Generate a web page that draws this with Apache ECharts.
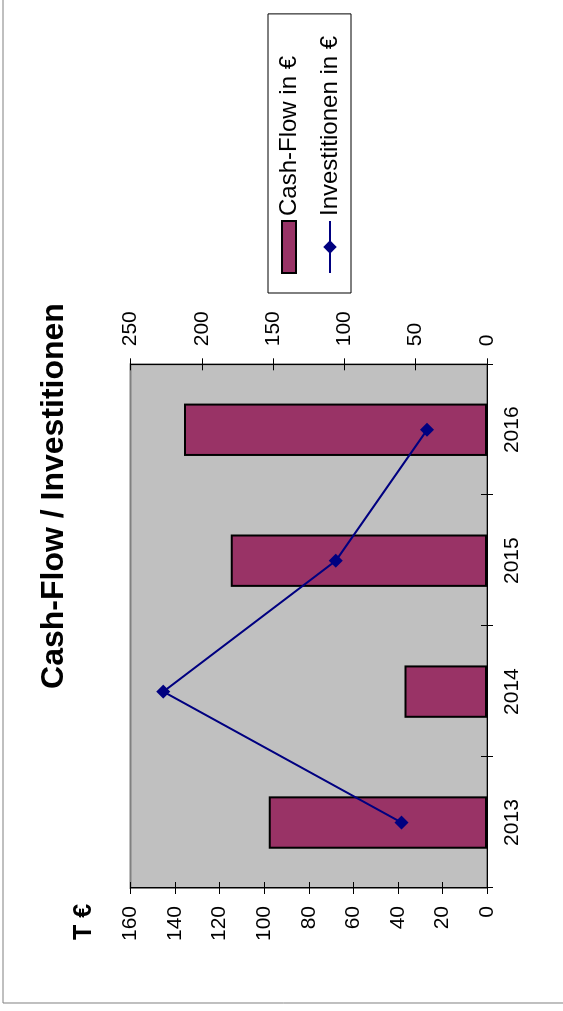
<!DOCTYPE html>
<html>
<head>
<meta charset="utf-8">
<script src="https://cdn.jsdelivr.net/npm/echarts@6/dist/echarts.min.js"></script>
<style>
  html, body { margin: 0; padding: 0; background: #fff; overflow: hidden; width: 563px; height: 1011px; }
  /* The chart is laid out landscape and turned a quarter turn counter-clockwise onto the portrait page */
  #chart {
    position: absolute; left: 0; top: 0;
    width: 1011px; height: 563px;
    transform-origin: 0 0;
    transform: translate(0px, 1011px) rotate(-90deg);
  }
</style>
</head>
<body>
<div id="chart"></div>
<script>
const years = ['2013', '2014', '2015', '2016'];
const cashFlow = [98, 37, 115, 136];          // T €, left axis
const investitionen = [60, 227, 106, 42];     // right axis
const cashFlowName = 'Cash-Flow in €';
const investName = 'Investitionen in €';
const titleText = 'Cash-Flow / Investitionen';
const unitText = 'T €';

const FONT = '"Liberation Sans", Arial, sans-serif';
const chart = echarts.init(document.getElementById('chart'), null, { renderer: 'canvas' });

const grid = { left: 123, top: 130.5, width: 523.7, height: 356.5 };

// Bar key: a 52x14 block inside the 52x17 legend cell (the bare moves pad the bounding box)
const barKeyIcon = 'path://M0 0 M52 17 M0 1.5 H52 V15.5 H0 Z';

function valueAxis(pos, max, interval, withLabels, inside) {
  return {
    type: 'value', position: pos, min: 0, max: max, interval: interval,
    gridIndex: 0,
    axisLine: { show: true, onZero: false, lineStyle: { color: '#000', width: 1 } },
    axisTick: { show: true, inside: inside, length: 6, lineStyle: { color: '#000', width: 1 } },
    axisLabel: { show: withLabels, margin: 18, fontSize: 21, color: '#000', fontFamily: FONT },
    splitLine: { show: false }
  };
}

function categoryAxis(withLabels, inside) {
  return {
    type: 'category', position: 'bottom', data: years, boundaryGap: true,
    axisLine: { show: true, lineStyle: { color: '#000', width: 1 } },
    axisTick: { show: true, inside: inside, length: 6, interval: 0, lineStyle: { color: '#000', width: 1 } },
    axisLabel: { show: withLabels, margin: 15, fontSize: 21, color: '#000', fontFamily: FONT },
    splitLine: { show: false }
  };
}

chart.setOption({
  animation: false,
  backgroundColor: '#fff',
  grid: Object.assign({ show: true, backgroundColor: '#C0C0C0', borderColor: '#808080', borderWidth: 2 }, grid),
  xAxis: [categoryAxis(true, false), categoryAxis(false, true)],
  yAxis: [
    valueAxis('left', 160, 20, true, false),
    valueAxis('right', 250, 50, true, false),
    valueAxis('left', 160, 20, false, true),
    valueAxis('right', 250, 50, false, true)
  ],
  legend: {
    orient: 'vertical',
    left: 718, top: 268,
    padding: [9, 22, 9, 19],
    itemGap: 17,
    itemWidth: 52, itemHeight: 17,
    borderColor: '#000', borderWidth: 1,
    backgroundColor: '#fff',
    textStyle: { fontSize: 24, color: '#000', fontFamily: FONT },
    data: [
      { name: cashFlowName, icon: barKeyIcon },
      { name: investName }
    ]
  },
  graphic: [
    {
      type: 'rect', silent: true, z: -10,
      shape: { x: 8, y: 3, width: 1200, height: 800 },
      style: { fill: 'none', stroke: '#808080', lineWidth: 1 }
    },
    {
      type: 'text', x: 515, y: 54,
      style: { text: titleText, font: 'bold 32px ' + FONT, align: 'center', verticalAlign: 'middle', fill: '#000' }
    },
    {
      type: 'text', x: 89, y: 84,
      style: { text: unitText, font: 'bold 25px ' + FONT, align: 'center', verticalAlign: 'middle', fill: '#000' }
    }
  ],
  series: [
    {
      name: cashFlowName, type: 'bar', xAxisIndex: 0, yAxisIndex: 0,
      data: cashFlow, barWidth: '40%',
      itemStyle: { color: '#993366', borderColor: '#000', borderWidth: 2 }
    },
    {
      name: investName, type: 'line', xAxisIndex: 0, yAxisIndex: 1,
      data: investitionen,
      symbol: 'diamond', symbolSize: 14,
      lineStyle: { color: '#000080', width: 2 },
      itemStyle: { color: '#000080' },
      z: 5
    }
  ]
});
</script>
</body>
</html>
